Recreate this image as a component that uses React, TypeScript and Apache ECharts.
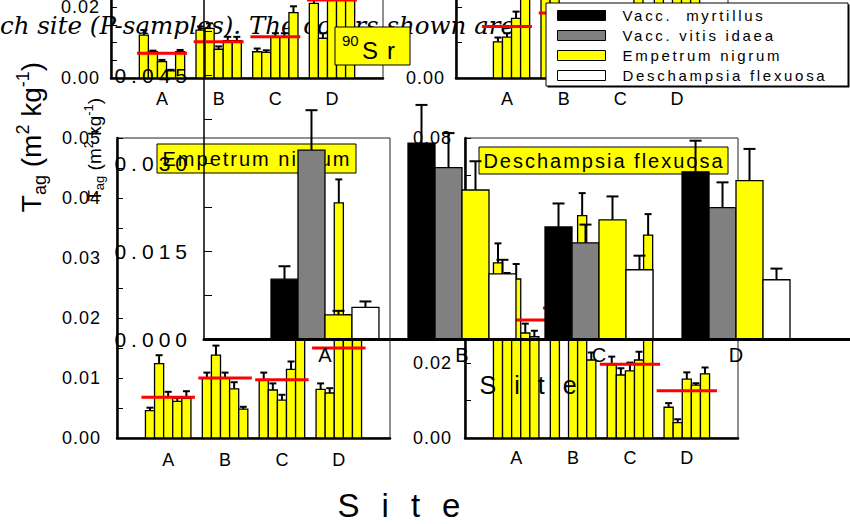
import React, { useEffect, useRef } from 'react';
import * as echarts from 'echarts';

// Sites along every x axis
const sites = ['A', 'B', 'C', 'D'];

// 90Sr panel (top left): five samples per site, their errors and the site mean
const srValues = [
  [0.0121, 0.0074, 0.0046, 0.002, 0.0074],
  [0.0135, 0.014, 0.0081, 0.0105, 0.0105],
  [0.0074, 0.0072, 0.0115, 0.0115, 0.0184],
  [0.021, 0.0112, 0.028, 0.03, 0.027],
];
const srErrors = [
  [0.0014, 0.0003, 0.0005, 0.0003, 0.0005],
  [0.001, 0.0014, 0.0008, 0.0011, 0.0011],
  [0.0009, 0.0006, 0.0011, 0.0011, 0.0018],
  [0.0015, 0.0014, 0.002, 0.002, 0.002],
];
const srMeans = [0.007, 0.0102, 0.0116, 0.022];

// Top right panel
const csValues = [
  [null, 0.0102, 0.0115, 0.0168, 0.03],
  [0.026, 0.024, 0.014, 0.012, 0.016],
  [0.012, 0.015, 0.016, 0.014, 0.024],
  [0.024, 0.016, 0.025, 0.027, 0.026],
];
const csErrors = [
  [0, 0.0012, 0.0011, 0.0019, 0.002],
  [0.002, 0.002, 0.0012, 0.0012, 0.0014],
  [0.0012, 0.0012, 0.0014, 0.0012, 0.002],
  [0.002, 0.0014, 0.002, 0.002, 0.002],
];
const csMeans = [0.0145, 0.0183, 0.0162, 0.0236];

// Empetrum nigrum panel (bottom left)
const enValues = [
  [0.00455, 0.0124, 0.0069, 0.0061, 0.0066],
  [0.01, 0.0138, 0.01, 0.0082, 0.0048],
  [0.0097, 0.008, 0.0063, 0.01145, 0.022],
  [0.0081, 0.0075, 0.0392, 0.019, 0.02],
];
const enErrors = [
  [0.0005, 0.0014, 0.0008, 0.0006, 0.0012],
  [0.0009, 0.0016, 0.0009, 0.0011, 0.0004],
  [0.0012, 0.0011, 0.0009, 0.0013, 0.002],
  [0.001, 0.0008, 0.0039, 0.0015, 0.0015],
];
const enMeans = [0.0068, 0.01, 0.0097, 0.015];

// Deschampsia flexuosa panel (bottom right)
const dfValues = [
  [0.0467, 0.04, 0.0424, 0.028, 0.027],
  [0.045, null, 0.044, 0.0593, 0.0208],
  [0.0195, 0.0168, 0.0179, 0.0208, 0.0541],
  [0.0082, 0.0041, 0.0157, 0.0141, 0.0171],
];
const dfErrors = [
  [0.0052, 0.004, 0.004, 0.0025, 0.0016],
  [0.004, 0, 0.004, 0.006, 0.002],
  [0.0022, 0.0018, 0.0022, 0.0022, 0.0056],
  [0.0011, 0.0009, 0.0018, 0.0005, 0.0017],
];
const dfMeans = [0.0315, 0.0347, 0.0197, 0.0126];

// Species comparison per site
const speciesNames = ['Vacc.  myrtillus', 'Vacc. vitis idaea', 'Empetrum nigrum', 'Deschampsia flexuosa'];
const speciesColors = ['#000000', '#808080', '#ffff00', '#ffffff'];
const myrtillus = [0.0102, 0.0334, 0.0191, 0.0285];
const myrtillusErr = [0.0022, 0.0065, 0.004, 0.0053];
const vitisIdaea = [0.0322, 0.0292, 0.0164, 0.0224];
const vitisIdaeaErr = [0.0068, 0.0059, 0.0031, 0.0043];
const empetrum = [0.0041, 0.0254, 0.0203, 0.027];
const empetrumErr = [0.0007, 0.0049, 0.004, 0.0054];
const deschampsia = [0.0054, 0.0111, 0.0118, 0.0101];
const deschampsiaErr = [0.001, 0.0024, 0.0024, 0.0019];

const caption = 'ch site (P-samples). The colors shown are';

const FONT = '"Liberation Sans", Arial, Helvetica, sans-serif';
const YELLOW = '#ffff00';
const SAMPLE_W = 0.16; // width of one sample bar, in site units
const SPECIES_W = 0.197; // width of one species bar, in site units

const panels = [
  { left: 111, top: -64, width: 272, height: 142, max: 0.04, interval: 0.02, minor: 4, yMargin: 11, xMargin: 12, half: 0.44, values: srValues, errors: srErrors, means: srMeans },
  { left: 456, top: -135, width: 272, height: 213, max: 0.06, interval: 0.03, minor: 3, yMargin: 11, xMargin: 12, half: 0.44, values: csValues, errors: csErrors, means: csMeans },
  { left: 117, top: 138, width: 273, height: 300, max: 0.05, interval: 0.01, minor: 2, yMargin: 16, xMargin: 13, half: 0.47, values: enValues, errors: enErrors, means: enMeans },
  { left: 465, top: 138, width: 273, height: 300, max: 0.08, interval: 0.02, minor: 2, yMargin: 13, xMargin: 11, half: 0.53, values: dfValues, errors: dfErrors, means: dfMeans },
];

const species = [
  { values: myrtillus, errors: myrtillusErr },
  { values: vitisIdaea, errors: vitisIdaeaErr },
  { values: empetrum, errors: empetrumErr },
  { values: deschampsia, errors: deschampsiaErr },
];

function sampleRows(values: (number | null)[][], errors: number[][]) {
  const rows: number[][] = [];
  values.forEach((group, s) =>
    group.forEach((v, k) => {
      if (v != null) rows.push([s + 1, k, v, errors[s][k]]);
    })
  );
  return rows;
}

function errorBar(cx: number, y0: number, y1: number, cap: number, width: number) {
  return [
    { type: 'line', shape: { x1: cx, y1: y0, x2: cx, y2: y1 }, style: { stroke: '#000', lineWidth: width } },
    { type: 'line', shape: { x1: cx - cap, y1: y1, x2: cx + cap, y2: y1 }, style: { stroke: '#000', lineWidth: width } },
  ];
}

function sampleBar(_params: any, api: any) {
  const s = api.value(0);
  const k = api.value(1);
  const v = api.value(2);
  const e = api.value(3);
  const x0 = s + (k - 2.5) * SAMPLE_W;
  const tl = api.coord([x0, v]);
  const br = api.coord([x0 + SAMPLE_W, 0]);
  const cx = (tl[0] + br[0]) / 2;
  const top = api.coord([s, v + e])[1];
  return {
    type: 'group',
    children: [
      ...(e > 0 ? errorBar(cx, tl[1], top, 3.5, 2) : []),
      {
        type: 'rect',
        shape: { x: tl[0], y: tl[1], width: br[0] - tl[0], height: br[1] - tl[1] },
        style: { fill: YELLOW, stroke: '#000', lineWidth: 1.3 },
      },
    ],
  };
}

function meanLine(half: number) {
  return (_params: any, api: any) => {
    const s = api.value(0);
    const m = api.value(1);
    const a = api.coord([s - half, m]);
    const b = api.coord([s + half, m]);
    return { type: 'line', shape: { x1: a[0], y1: a[1], x2: b[0], y2: b[1] }, style: { stroke: '#ff0000', lineWidth: 3 } };
  };
}

function speciesBar(j: number, fill: string) {
  return (_params: any, api: any) => {
    const s = api.value(0);
    const v = api.value(1);
    const e = api.value(2);
    const x0 = s + (j - 2) * SPECIES_W;
    const tl = api.coord([x0, v]);
    const br = api.coord([x0 + SPECIES_W, 0]);
    const cx = (tl[0] + br[0]) / 2;
    const top = api.coord([s, v + e])[1];
    return {
      type: 'group',
      children: [
        ...errorBar(cx, tl[1], top, 6, 2),
        {
          type: 'rect',
          shape: { x: tl[0], y: tl[1], width: br[0] - tl[0], height: br[1] - tl[1] },
          style: { fill, stroke: '#000', lineWidth: 1.3 },
        },
      ],
    };
  };
}

const siteLabel = (v: number) => sites[Math.round(v) - 1] ?? '';

const grids: any[] = panels.map((p) => ({
  left: p.left,
  top: p.top,
  width: p.width,
  height: p.height,
  outerBoundsMode: 'none',
  containLabel: false,
  show: true,
  borderColor: '#222',
  borderWidth: 1,
  backgroundColor: 'transparent',
}));
grids.push({ left: 204, top: -39.4, width: 646, height: 378.4, outerBoundsMode: 'none', containLabel: false });

const xAxes: any[] = panels.map((p, i) => ({
  type: 'value',
  gridIndex: i,
  min: 0.1,
  max: 4.9,
  z: 1,
  axisLine: { show: true, lineStyle: { color: '#000', width: 2.5 } },
  axisTick: { show: false },
  splitLine: { show: false },
  axisLabel: { customValues: [1, 2, 3, 4], formatter: siteLabel, fontSize: 18, fontFamily: FONT, color: '#000', margin: p.xMargin },
}));
xAxes.push({
  type: 'value',
  gridIndex: 4,
  min: 0.117,
  max: 4.832,
  z: 6,
  axisLine: { show: true, lineStyle: { color: '#000', width: 3 } },
  axisTick: { show: false },
  splitLine: { show: false },
  axisLabel: { customValues: [1, 2, 3, 4], formatter: siteLabel, fontSize: 20, fontFamily: FONT, color: '#000', margin: 6 },
  name: 'Site',
  nameLocation: 'middle',
  nameGap: 33,
  nameTextStyle: { fontSize: 25, fontFamily: FONT, color: '#000', padding: [0, 0, 0, 20] },
});

const yAxes: any[] = panels.map((p, i) => ({
  type: 'value',
  gridIndex: i,
  min: 0,
  max: p.max,
  interval: p.interval,
  z: 1,
  axisLine: { show: true, lineStyle: { color: '#000', width: 2.5 } },
  axisTick: { show: true, inside: true, length: 6, lineStyle: { color: '#000', width: 1 } },
  minorTick: { show: true, splitNumber: p.minor, length: 6, lineStyle: { color: '#000', width: 1 } },
  splitLine: { show: false },
  axisLabel: { formatter: (v: number) => v.toFixed(2), fontSize: 18, fontFamily: FONT, color: '#000', margin: p.yMargin },
}));

const titleRich = (big: number, small: number) => ({
  t: { fontSize: big, fontFamily: FONT, color: '#000', lineHeight: big * 1.25, verticalAlign: 'middle' },
  s: { fontSize: small, fontFamily: FONT, color: '#000', lineHeight: small, verticalAlign: 'bottom' },
  p: { fontSize: small, fontFamily: FONT, color: '#000', lineHeight: small, verticalAlign: 'top' },
});
const tagTitle = '{t|T}{s|ag}{t| (m}{p|2}{t| kg}{p|-1}{t|)}';

yAxes.push({
  type: 'value',
  gridIndex: 4,
  min: 0,
  max: 0.0645,
  interval: 0.015,
  z: 6,
  axisLine: { show: true, lineStyle: { color: '#000', width: 1.5 } },
  axisTick: { show: true, inside: true, length: 8, lineStyle: { color: '#000', width: 1 } },
  minorTick: { show: true, splitNumber: 2, length: 8, lineStyle: { color: '#000', width: 1 } },
  splitLine: { show: false },
  axisLabel: { formatter: (v: number) => v.toFixed(3), fontSize: 21, fontFamily: FONT, color: '#000', margin: 12, showMaxLabel: false },
  name: tagTitle,
  nameLocation: 'middle',
  nameRotate: 90,
  nameGap: 98,
  nameTextStyle: { rich: titleRich(19, 13) },
});

const series: any[] = [];
panels.forEach((p, i) => {
  series.push({
    type: 'custom',
    xAxisIndex: i,
    yAxisIndex: i,
    z: 2,
    silent: true,
    encode: { x: 0, y: 2 },
    data: sampleRows(p.values, p.errors),
    renderItem: sampleBar,
  });
  series.push({
    type: 'custom',
    xAxisIndex: i,
    yAxisIndex: i,
    z: 3,
    silent: true,
    encode: { x: 0, y: 1 },
    data: p.means.map((m, s) => [s + 1, m]),
    renderItem: meanLine(p.half),
  });
});
species.forEach((sp, j) => {
  series.push({
    type: 'custom',
    name: speciesNames[j],
    xAxisIndex: 4,
    yAxisIndex: 4,
    z: 5,
    silent: true,
    itemStyle: { color: speciesColors[j], borderColor: '#000', borderWidth: 1 },
    encode: { x: 0, y: 1 },
    data: sp.values.map((v, s) => [s + 1, v, sp.errors[s]]),
    renderItem: speciesBar(j, speciesColors[j]),
  });
});

const boxText = (x: number, y: number, text: string, size: number, z: number) => ({
  type: 'text',
  x,
  y,
  z,
  style: { text, fontSize: size, fontFamily: FONT, fill: '#000', align: 'center', verticalAlign: 'middle' },
});

const graphic: any[] = [
  {
    type: 'text',
    x: 0,
    y: 25,
    z: 0,
    style: { text: caption, font: 'italic 24.5px "DejaVu Serif"', fill: '#000', verticalAlign: 'middle' },
  },
  {
    type: 'text',
    x: 31,
    y: 137,
    z: 1,
    rotation: Math.PI / 2,
    style: { text: tagTitle, rich: titleRich(28, 18), align: 'center', verticalAlign: 'middle' },
  },
  boxText(410, 505, 'Site', 33, 1),
  // 90Sr label
  { type: 'rect', z: 3, shape: { x: 335, y: 27, width: 75, height: 38 }, style: { fill: YELLOW, stroke: '#000', lineWidth: 1 } },
  {
    type: 'text',
    x: 342,
    y: 40,
    z: 3,
    style: { text: '90', fontSize: 15, fontFamily: FONT, fill: '#000', align: 'left', verticalAlign: 'middle' },
  },
  {
    type: 'text',
    x: 362,
    y: 50,
    z: 3,
    style: { text: 'Sr', fontSize: 24, fontFamily: FONT, fill: '#000', align: 'left', verticalAlign: 'middle' },
  },
  // Panel titles
  { type: 'rect', z: 3, shape: { x: 157, y: 144, width: 199, height: 29 }, style: { fill: YELLOW, stroke: '#000', lineWidth: 1 } },
  boxText(257, 159, 'Empetrum nigrum', 20, 3),
  { type: 'rect', z: 3, shape: { x: 479, y: 147, width: 249, height: 27 }, style: { fill: YELLOW, stroke: '#000', lineWidth: 1 } },
  boxText(604, 161, 'Deschampsia flexuosa', 20, 3),
  // Legend frame
  { type: 'rect', z: 8, shape: { x: 547.5, y: 4.5, width: 302, height: 83 }, style: { fill: '#000' } },
  { type: 'rect', z: 8, shape: { x: 546, y: 3, width: 302, height: 83 }, style: { fill: '#fff', stroke: '#000', lineWidth: 1 } },
];

const option: any = {
  animation: false,
  grid: grids,
  xAxis: xAxes,
  yAxis: yAxes,
  legend: {
    show: true,
    z: 9,
    orient: 'vertical',
    left: 557,
    top: 8,
    padding: 0,
    itemWidth: 48,
    itemHeight: 10,
    itemGap: 5,
    selectedMode: false,
    icon: 'rect',
    itemStyle: { borderColor: '#000', borderWidth: 1 },
    textStyle: { fontSize: 15, lineHeight: 15, fontFamily: FONT, color: '#000', padding: [0, 0, 0, 12] },
    data: speciesNames.map((name, j) => ({ name, itemStyle: { color: speciesColors[j], borderColor: '#000', borderWidth: 1 } })),
  },
  graphic,
  series,
};

// Extra tracking for the widely spaced lettering of the figure
function letterGap(text: string, size: number): number {
  if (text === 'Site') return size > 30 ? 22 : 18;
  if (text === 'Sr') return 9;
  if (/^0\.\d{3}$/.test(text)) return 5;
  if (/^0\.\d{2}$/.test(text)) return 1;
  if (speciesNames.includes(text)) return size < 17 ? 2.7 : 2;
  return 0;
}

function spaceLetters(root: HTMLElement) {
  root.querySelectorAll('text').forEach((node) => {
    const text = (node.textContent ?? '').trim();
    const size = parseFloat(getComputedStyle(node).fontSize) || 12;
    const gap = letterGap(text, size);
    if (gap) node.setAttribute('letter-spacing', String(gap));
  });
}

export default function App() {
  const ref = useRef<HTMLDivElement>(null);
  useEffect(() => {
    const el = ref.current!;
    const chart = echarts.init(el, null, { renderer: 'svg' });
    chart.setOption(option);
    spaceLetters(el);
    return () => chart.dispose();
  }, []);
  return (
    <div
      ref={ref}
      style={{ position: 'fixed', left: 0, top: 0, width: 850, height: 524, background: '#fff' }}
    />
  );
}
